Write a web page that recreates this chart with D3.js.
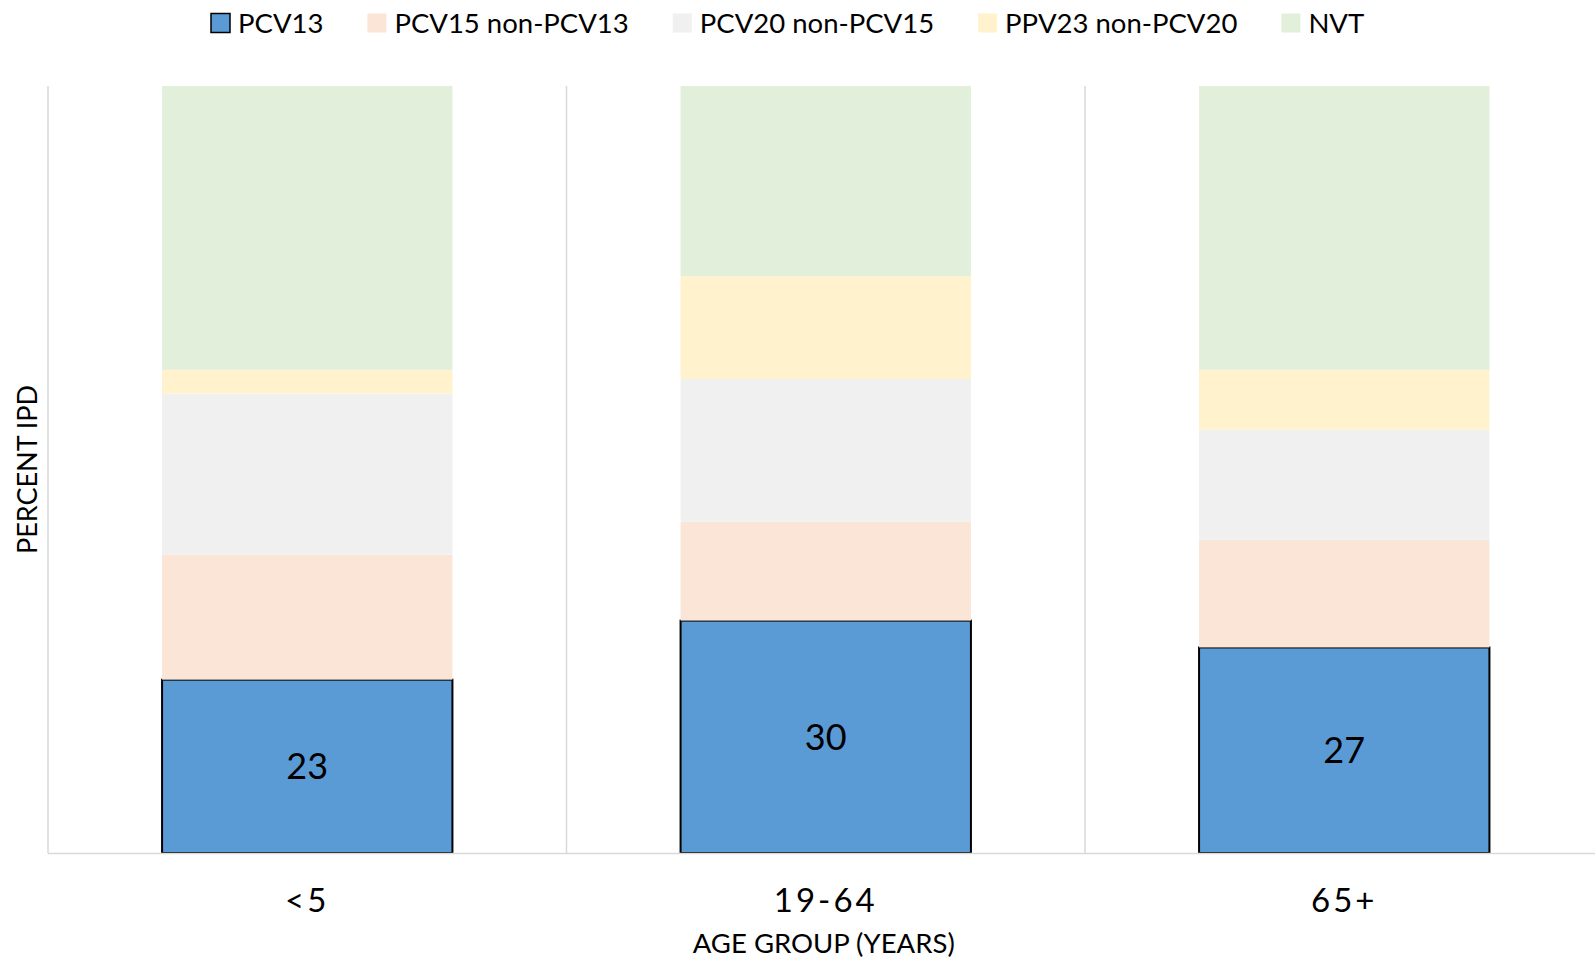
<!DOCTYPE html>
<html>
<head>
<meta charset="utf-8">
<script src="https://cdn.jsdelivr.net/npm/d3@7"></script>
<style>
  body { margin: 0; background: #fff; }
  svg { display: block; font-family: Lato, sans-serif; }
</style>
</head>
<body>
<div id="chart"></div>
<script>
// Serotype coverage of IPD by age group - stacked 100% columns

const categories = ["<5", "19-64", "65+"];
const seriesNames = ["PCV13", "PCV15 non-PCV13", "PCV20 non-PCV15", "PPV23 non-PCV20", "NVT"];
const seriesColors = ["#5B9BD5", "#FBE5D6", "#F0F0F0", "#FFF2CC", "#E2EFDA"];

const pcv13 = [22.6, 30.3, 26.8];
const pcv15 = [16.3, 12.9, 14.05];
const pcv20 = [21.0, 18.6, 14.35];
const ppv23 = [3.1, 13.4, 7.8];
const nvt = [37.0, 24.8, 37.0];

const width = 1595;
const height = 960;
const margin = { top: 86, left: 48, bottom: 107 };
const plotRight = 48 + 3 * 518.5;

const rows = categories.map((c, i) => ({
  group: c,
  "PCV13": pcv13[i],
  "PCV15 non-PCV13": pcv15[i],
  "PCV20 non-PCV15": pcv20[i],
  "PPV23 non-PCV20": ppv23[i],
  "NVT": nvt[i]
}));

const svg = d3.select("#chart")
  .append("svg")
  .attr("width", width)
  .attr("height", height);

svg.append("rect")
  .attr("width", width)
  .attr("height", height)
  .attr("fill", "#fff");

const x = d3.scaleBand()
  .domain(categories)
  .range([margin.left, plotRight])
  .paddingInner(0.44)
  .paddingOuter(0.22);

const y = d3.scaleLinear()
  .domain([0, 100])
  .range([height - margin.bottom, margin.top]);

const color = d3.scaleOrdinal().domain(seriesNames).range(seriesColors);

// category dividers
const step = x.step();
const dividers = d3.range(categories.length + 1).map(i => margin.left + i * step);
svg.selectAll(".divider")
  .data(dividers)
  .join("line")
  .attr("class", "divider")
  .attr("x1", d => d)
  .attr("x2", d => d)
  .attr("y1", y(100))
  .attr("y2", y(0))
  .attr("stroke", "#D9D9D9")
  .attr("stroke-width", 1.5);

const stacked = d3.stack().keys(seriesNames)(rows);

const layers = svg.selectAll(".layer")
  .data(stacked)
  .join("g")
  .attr("class", "layer")
  .attr("fill", d => color(d.key));

layers.selectAll("rect")
  .data(d => d.map(v => Object.assign(v, { key: d.key })))
  .join("rect")
  .attr("x", d => x(d.data.group))
  .attr("y", d => y(d[1]))
  .attr("width", x.bandwidth())
  .attr("height", d => y(d[0]) - y(d[1]))
  .attr("stroke", d => d.key === "PCV13" ? "#000" : "none")
  .attr("stroke-width", 2);

// baseline
svg.append("line")
  .attr("x1", margin.left)
  .attr("x2", width)
  .attr("y1", y(0) + 0.5)
  .attr("y2", y(0) + 0.5)
  .attr("stroke", "#D9D9D9")
  .attr("stroke-width", 1.5);

// value labels on PCV13
svg.selectAll(".value-label")
  .data(stacked[0])
  .join("text")
  .attr("class", "value-label")
  .attr("x", d => x(d.data.group) + x.bandwidth() / 2)
  .attr("y", d => (y(d[0]) + y(d[1])) / 2)
  .attr("dy", "0.36em")
  .attr("text-anchor", "middle")
  .attr("font-size", "36px")
  .attr("fill", "#000")
  .text(d => Math.round(d[1] - d[0]));

// category axis labels
const xAxis = d3.axisBottom(x).tickSize(0).tickPadding(0);
const xAxisG = svg.append("g")
  .attr("transform", `translate(0,${y(0)})`)
  .call(xAxis);
xAxisG.select(".domain").remove();
xAxisG.selectAll("text")
  .attr("y", 47)
  .attr("dy", "0.36em")
  .attr("font-family", "Lato, sans-serif")
  .attr("font-size", "33px")
  .attr("letter-spacing", "3px")
  .attr("fill", "#000");

svg.append("text")
  .attr("x", (margin.left + plotRight) / 2 - 2)
  .attr("y", 943)
  .attr("dy", "0.36em")
  .attr("text-anchor", "middle")
  .attr("font-size", "27.5px")
  .attr("fill", "#000")
  .text("AGE GROUP (YEARS)");

svg.append("text")
  .attr("transform", `translate(27,${469.5}) rotate(-90)`)
  .attr("dy", "0.36em")
  .attr("text-anchor", "middle")
  .attr("font-size", "27px")
  .attr("fill", "#000")
  .text("PERCENT IPD");

// legend
const legend = svg.append("g").attr("transform", "translate(211,23)");
let lx = 0;
seriesNames.forEach((name, i) => {
  const item = legend.append("g").attr("transform", `translate(${lx},0)`);
  item.append("rect")
    .attr("x", 0)
    .attr("y", -9.5)
    .attr("width", 19)
    .attr("height", 19)
    .attr("fill", seriesColors[i])
    .attr("stroke", i === 0 ? "#000" : "none")
    .attr("stroke-width", 1.5);
  const t = item.append("text")
    .attr("x", 27)
    .attr("dy", "0.36em")
    .attr("font-size", "27.5px")
    .attr("fill", "#000")
    .text(name);
  lx += 27 + t.node().getComputedTextLength() + 44;
});
</script>
</body>
</html>
